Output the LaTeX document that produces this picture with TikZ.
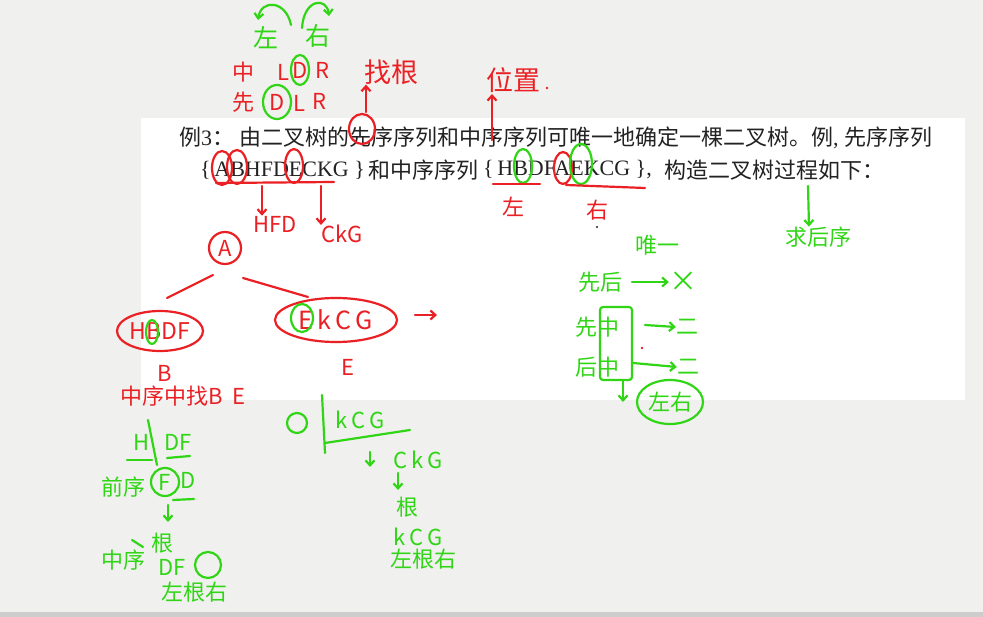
\documentclass[tikz,border=0pt]{standalone}
\usepackage{fontspec}
\setmainfont{Liberation Serif}
\newfontfamily\cjk{Noto Sans CJK SC}
\usetikzlibrary{calc,positioning,shapes.geometric,arrows.meta}

\definecolor{penred}{RGB}{234,32,36}
\definecolor{pengreen}{RGB}{48,214,22}
\definecolor{bggrey}{RGB}{240,240,238}
\definecolor{bargrey}{RGB}{205,205,205}
\definecolor{inkgrey}{RGB}{34,34,34}

\begin{document}
\begin{tikzpicture}[x=1pt,y=-1pt, line cap=round, line join=round]

% ---------- styles ----------
\tikzset{
  pen/.style={line width=2.2pt},
  redpen/.style={pen, draw=penred},
  greenpen/.style={pen, draw=pengreen},
  tip/.style={-{Straight Barb[length=5pt,width=9pt]}},
  slide/.style={text=inkgrey, inner sep=0pt, font=\fontsize{22}{24}\selectfont},
  rednote/.style={text=penred, inner sep=0pt, font=\cjk\fontsize{22}{24}\selectfont},
  greennote/.style={text=pengreen, inner sep=0pt, font=\cjk\fontsize{22}{24}\selectfont},
  big/.style={font=\cjk\fontsize{27}{29}\selectfont},
  redring/.style={redpen, ellipse, inner sep=0pt},
  greenring/.style={greenpen, ellipse, inner sep=0pt},
}

% ---------- canvas ----------
\useasboundingbox (0,0) rectangle (983,617);
\fill[bggrey] (0,0) rectangle (983,617);
\fill[white] (141,118) rectangle (965,400);
\fill[bargrey] (0,612) rectangle (983,617);

% ---------- slide text ----------
\node[slide, anchor=west] (line1) at (179,138)
  {{\cjk 例}3{\cjk ：\ 由二叉树的先序序列和中序序列可唯一地确定一棵二叉树。例}, {\cjk 先序序列}};
\node[slide, anchor=west] (preseq) at (200,170) {\{\,ABHFDECKG \}};
\node[slide, anchor=west, font=\cjk\fontsize{22}{24}\selectfont] (andin) at (368,170) {和中序序列};
\node[slide, anchor=west] (inseq) at (483,170) {\{\,HBDFAEKCG \},};
\node[slide, anchor=east, font=\cjk\fontsize{22}{24}\selectfont] (build) at (885,170) {构造二叉树过程如下：};

% ---------- top: DLR / LDR ----------
\node[greennote, font=\cjk\fontsize{25}{27}\selectfont] (zuo1) at (266,38) {左};
\node[greennote, font=\cjk\fontsize{25}{27}\selectfont] (you1) at (318,36) {右};
\draw[greenpen, tip] (291,25) .. controls (286,0) and (261,-1) .. (258,20);
\draw[greenpen, tip] (302,28) .. controls (304,-2) and (327,-3) .. (329,16);

\node[rednote] (zhong1) at (243,72) {中};
\node[rednote] (mL) at (283,72) {L};
\node[rednote] (mD) at (300,70) {D};
\node[rednote] (mR) at (322,70) {R};
\draw[greenpen] (mD) ellipse [x radius=9, y radius=15];

\node[rednote] (xian1) at (243,102) {先};
\node[rednote] (pD) at (277,102) {D};
\node[rednote] (pL) at (299,103) {L};
\node[rednote] (pR) at (319,101) {R};
\draw[greenpen] (pD) ellipse [x radius=14, y radius=17];

\node[rednote, big] (zhaogen) at (391,72) {找根};
\coordinate (xianTop) at (366,112);
\draw[redpen, tip] (xianTop) -- (zhaogen.south -| xianTop);
\draw[redpen] (362,129) ellipse [x radius=13, y radius=15];

\node[rednote, big] (weizhi) at (513,80) {位置};
\fill[penred] (547,88) circle (1.3);
\coordinate (posBase) at (492,140);
\draw[redpen, tip] (posBase) -- (492,94);

% ---------- line 2 marks ----------
\draw[redpen] (222,168) ellipse [x radius=10, y radius=17];
\draw[redpen] (237,167) ellipse [x radius=10, y radius=17];
\draw[redpen] (294,166) ellipse [x radius=9, y radius=17];
\draw[redpen] (216,183) -- (334,182);
\node[rednote] (hfd) at (275,224) {HFD};
\node[rednote] (ckg1) at (342,234) {CkG};
\draw[redpen, tip] (262,186) -- (hfd.north -| 262,0);
\draw[redpen, tip] (321,186) -- (ckg1.north -| 321,0);

\draw[greenpen] (523,166) ellipse [x radius=9, y radius=17];
\draw[redpen] (563,168) ellipse [x radius=9, y radius=16];
\draw[greenpen] (581,164) ellipse [x radius=11, y radius=20];
\draw[redpen] (493,184) -- (540,184);
\draw[redpen] (566,185) -- (645,188);
\node[rednote] (zuo2) at (513,207) {左};
\node[rednote] (you2) at (597,210) {右};
\fill[inkgrey] (597,227) circle (1.2);

\node[greennote] (qiuhouxu) at (818,237) {求后序};
\draw[greenpen, tip] (808,186) -- (qiuhouxu.north -| 809,0);

% ---------- tree ----------
\node[rednote, redpen, circle, minimum size=32pt] (rootA) at (225,248) {A};
\node[rednote, redring, minimum width=86pt, minimum height=40pt,
      font=\cjk\fontsize{23}{25}\selectfont] (leftset) at (160,331) {HBDF};
\node[rednote, redring, minimum width=122pt, minimum height=44pt,
      font=\cjk\fontsize{25}{27}\selectfont] (rightset) at (336,320) {E\,k\,C\,G};
\draw[redpen] (213,275) -- (167,298);
\draw[redpen] (243,278) -- (308,297);
\draw[greenpen] (152,332) ellipse [x radius=6, y radius=12];
\draw[greenpen] (302,318) ellipse [x radius=11, y radius=14];
\draw[redpen, tip] (415,315) -- (437,315);
\node[rednote] (nodeB) at (165,373) {B};
\node[rednote] (nodeE) at (348,367) {E};
\node[rednote] (zhaoBE) at (183,396) {中序中找B\ \ E};

% ---------- left subtree work ----------
\node[greennote] (h1) at (142,442) {H};
\node[greennote] (df1) at (178,442) {DF};
\draw[greenpen] (148,420) -- (157,465);
\draw[greenpen] (127,460) -- (152,460);
\draw[greenpen] (167,458) -- (190,456);
\node[greennote] (qianxu) at (123,487) {前序};
\node[greennote, greenpen, circle, minimum size=28pt] (fF) at (165,482) {F};
\node[greennote] (dD) at (188,480) {D};
\draw[greenpen] (173,500) -- (194,499);
\draw[greenpen, tip] (168,505) -- (168,522);
\node[greennote] (gen1) at (162,543) {根};
\draw[greenpen] (132,540) -- (143,547);
\node[greennote] (zhongxu) at (123,560) {中序};
\node[greennote] (df2) at (172,567) {DF};
\draw[greenpen] (208,565) circle (13);
\node[greennote] (zgy1) at (194,592) {左根右};

% ---------- right subtree work ----------
\draw[greenpen] (297,423) circle (10);
\draw[greenpen] (322,395) -- (325,453);
\node[greennote] (kcg1) at (360,420) {k\,C\,G};
\draw[greenpen] (325,443) -- (410,430);
\node[greennote] (ckg2) at (418,460) {C\,k\,G};
\draw[greenpen, tip] (370,452) -- (370,467);
\draw[greenpen, tip] (398,473) -- (398,490);
\node[greennote] (gen2) at (407,507) {根};
\node[greennote] (kcg2) at (418,537) {k\,C\,G};
\node[greennote] (zgy2) at (423,559) {左根右};

% ---------- uniqueness notes ----------
\node[greennote] (weiyi) at (657,245) {唯一};
\node[greennote] (xianhou) at (600,282) {先后};
\node[greennote, font=\cjk\fontsize{28}{30}\selectfont] (cross) at (683,282) {×};
\draw[greenpen, tip] (632,282) -- (cross.west);
\node[greennote] (xianzhong) at (597,327) {先中};
\node[greennote] (er1) at (687,327) {二};
\node[greennote] (houzhong) at (597,367) {后中};
\node[greennote] (er2) at (688,367) {二};
\draw[greenpen, tip] (645,325) -- (er1.west);
\draw[greenpen, tip] (633,363) -- (er2.west);
\draw[greenpen, rounded corners=3pt] (600,307) rectangle (632,380);
\fill[penred] (642,348) circle (1.3);
\node[greennote, greenring, minimum width=66pt, minimum height=44pt] (zuoyou) at (670,402) {左右};
\draw[greenpen, tip] (623,380) -- (623,402);

\end{tikzpicture}
\end{document}
